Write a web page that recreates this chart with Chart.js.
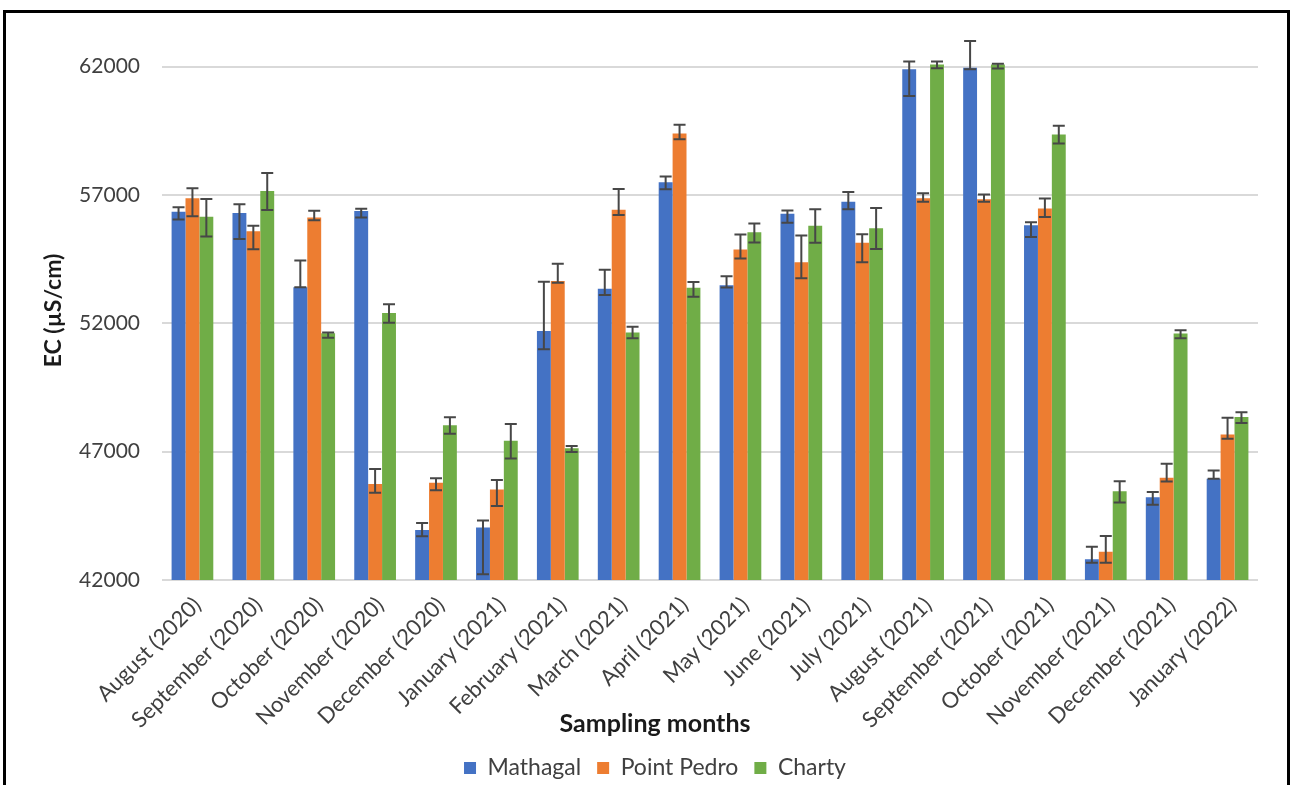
<!DOCTYPE html>
<html><head><meta charset="utf-8">
<script src="https://cdn.jsdelivr.net/npm/chart.js@4.4.1/dist/chart.umd.min.js"></script>
<style>
html,body{margin:0;padding:0;background:#fff;overflow:hidden;width:1290px;height:785px;}
#wrap{position:absolute;left:0;top:0;width:1290px;height:800px;}
#frame{position:absolute;left:3px;top:10px;width:1287px;height:800px;border:3px solid #000;box-sizing:border-box;pointer-events:none;}
</style></head><body>
<div id="wrap"><canvas id="c" width="1290" height="800"></canvas></div>
<div id="frame"></div>
<script>
const categories = ['August (2020)', 'September (2020)', 'October (2020)', 'November (2020)', 'December (2020)', 'January (2021)', 'February (2021)', 'March (2021)', 'April (2021)', 'May (2021)', 'June (2021)', 'July (2021)', 'August (2021)', 'September (2021)', 'October (2021)', 'November (2021)', 'December (2021)', 'January (2022)'];
const yTicks = [42000, 47000, 52000, 57000, 62000];

const mathagal = [56350, 56300, 53410, 56380, 43950, 44050, 51700, 53350, 57500, 53480, 56270, 56740, 61900, 61960, 55820, 42810, 45220, 45940];
const mathagalErrPlus = [170, 340, 1040, 80, 270, 270, 1920, 740, 220, 350, 130, 380, 300, 1040, 120, 490, 210, 330];
const mathagalErrMinus = [300, 1010, 0, 260, 250, 1830, 710, 250, 280, 80, 350, 300, 1040, 60, 460, 140, 290, 0];

const pointPedro = [56870, 55590, 56120, 45740, 45790, 45530, 53650, 56430, 59400, 54880, 54380, 55140, 56870, 56830, 56470, 43100, 45980, 47670];
const pointPedroErrPlus = [390, 210, 270, 580, 170, 370, 670, 800, 340, 580, 1040, 330, 200, 190, 390, 610, 550, 650];
const pointPedroErrMinus = [700, 700, 100, 340, 290, 650, 70, 210, 230, 350, 620, 760, 130, 90, 330, 430, 140, 170];

const charty = [56150, 57160, 51610, 52400, 48030, 47430, 47130, 51640, 53390, 55550, 55800, 55700, 62080, 62080, 59360, 45460, 51600, 48350];
const chartyErrPlus = [690, 700, 30, 340, 310, 650, 90, 230, 220, 340, 640, 790, 120, 30, 340, 390, 130, 190];
const chartyErrMinus = [770, 740, 170, 380, 330, 700, 140, 220, 350, 400, 660, 800, 140, 150, 350, 440, 180, 230];

const errorBarPlugin = {
  id: 'errorBars',
  afterDatasetsDraw(chart) {
    const ctx = chart.ctx;
    const yScale = chart.scales.y;
    chart.data.datasets.forEach((ds, i) => {
      const meta = chart.getDatasetMeta(i);
      if (meta.hidden) return;
      meta.data.forEach((bar, j) => {
        const v = ds.data[j];
        const top = yScale.getPixelForValue(v + ds.errPlus[j]);
        const bot = yScale.getPixelForValue(v - ds.errMinus[j]);
        const x = bar.x;
        ctx.save();
        ctx.strokeStyle = '#474747';
        ctx.lineWidth = 2;
        ctx.beginPath();
        ctx.moveTo(x, top); ctx.lineTo(x, bot);
        ctx.moveTo(x - 6, top); ctx.lineTo(x + 6, top);
        ctx.moveTo(x - 6, bot); ctx.lineTo(x + 6, bot);
        ctx.stroke();
        ctx.restore();
      });
    });
  }
};

const font = 'Lato';
new Chart(document.getElementById('c'), {
  type: 'bar',
  data: {
    labels: categories,
    datasets: [
      { label: 'Mathagal', data: mathagal, errPlus: mathagalErrPlus, errMinus: mathagalErrMinus, backgroundColor: '#4472C4' },
      { label: 'Point Pedro', data: pointPedro, errPlus: pointPedroErrPlus, errMinus: pointPedroErrMinus, backgroundColor: '#ED7D31' },
      { label: 'Charty', data: charty, errPlus: chartyErrPlus, errMinus: chartyErrMinus, backgroundColor: '#70AD47' }
    ]
  },
  plugins: [errorBarPlugin],
  options: {
    responsive: false,
    animation: false,
    datasets: { bar: { categoryPercentage: 0.685, barPercentage: 1.0 } },
    layout: { padding: { left: 52, right: 32, top: 41, bottom: 10.5 } },
    plugins: {
      legend: {
        position: 'bottom',
        labels: { boxWidth: 12, boxHeight: 12, padding: 16, color: '#404040', font: { family: font, size: 23 } }
      },
      title: {
        display: true, position: 'bottom', text: 'Sampling months', weight: 500,
        padding: { top: -21, bottom: 1.5 }, color: '#1a1a1a',
        font: { family: font, size: 25, weight: 'bold' }
      },
      tooltip: { enabled: false }
    },
    scales: {
      x: {
        grid: { display: false },
        border: { display: false },
        ticks: { minRotation: 45, maxRotation: 45, autoSkip: false, padding: 4, labelOffset: 5, color: '#404040', font: { family: font, size: 22 } },
        afterFit(s) { s.height = 150; }
      },
      y: {
        min: 42000, max: 63000,
        afterBuildTicks(s) { s.ticks = yTicks.map(v => ({ value: v })); },
        ticks: { padding: 22, color: '#404040', font: { family: font, size: 21 }, callback: v => String(v) },
        grid: { color: '#d9d9d9', lineWidth: 2, drawTicks: false },
        border: { display: false },
        title: { display: true, text: 'EC (µS/cm)', color: '#1a1a1a', font: { family: font, size: 23, weight: 'bold' }, padding: { top: -12, bottom: 0 } },
        afterFit(s) { s.width = 110; }
      }
    }
  }
});
</script>
</body></html>
